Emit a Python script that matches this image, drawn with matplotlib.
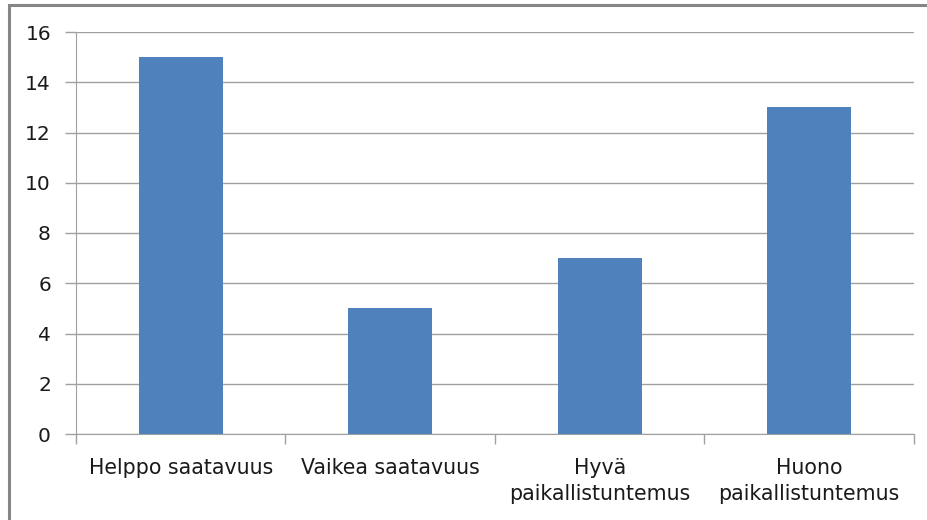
import matplotlib.pyplot as plt
from matplotlib.patches import Rectangle

# ------------------ Data ------------------
categories = ["Helppo saatavuus", "Vaikea saatavuus", "Hyvä\npaikallistuntemus", "Huono\npaikallistuntemus"]
values = [15, 5, 7, 13]
y_ticks = [0, 2, 4, 6, 8, 10, 12, 14, 16]

plt.rcParams['font.family'] = ['DejaVu Sans']

fig = plt.figure(figsize=(9.28, 5.2), dpi=100)
ax = fig.add_axes([76 / 928, 1 - 434 / 520, (914 - 76) / 928, (434 - 32) / 520])

# outer chart border (only top and left are visible in the frame)
fig.patches.append(Rectangle((9 / 928, -0.05), 1.1, 1 - 5 / 520 + 0.05, transform=fig.transFigure,
                             fill=False, edgecolor='#868686', linewidth=2.2))

x = range(len(categories))
ax.bar(x, values, width=0.4, color='#4F81BD', zorder=3)

ax.set_xlim(-0.5, len(categories) - 0.5)
ax.set_ylim(0, 16)
ax.set_yticks(y_ticks)
ax.set_yticklabels([str(t) for t in y_ticks], fontsize=14.5, color='#1a1a1a')
ax.grid(axis='y', color='#a0a0a0', linewidth=1.0, zorder=0)

# category labels at centres, tick marks at boundaries
ax.set_xticks(list(x))
ax.set_xticklabels(categories, fontsize=14.8, color='#1a1a1a', linespacing=1.4)
ax.tick_params(axis='x', length=0, pad=17)
ax.set_xticks([i - 0.5 for i in range(len(categories) + 1)], minor=True)
ax.tick_params(axis='x', which='minor', length=7, color='#a0a0a0', width=1.0)
ax.tick_params(axis='y', length=8, color='#a0a0a0', width=1.0, pad=10)

for side in ['top', 'right']:
    ax.spines[side].set_visible(False)
ax.spines['left'].set_color('#a0a0a0')
ax.spines['bottom'].set_color('#a0a0a0')

fig.savefig("out.png", dpi=100)
